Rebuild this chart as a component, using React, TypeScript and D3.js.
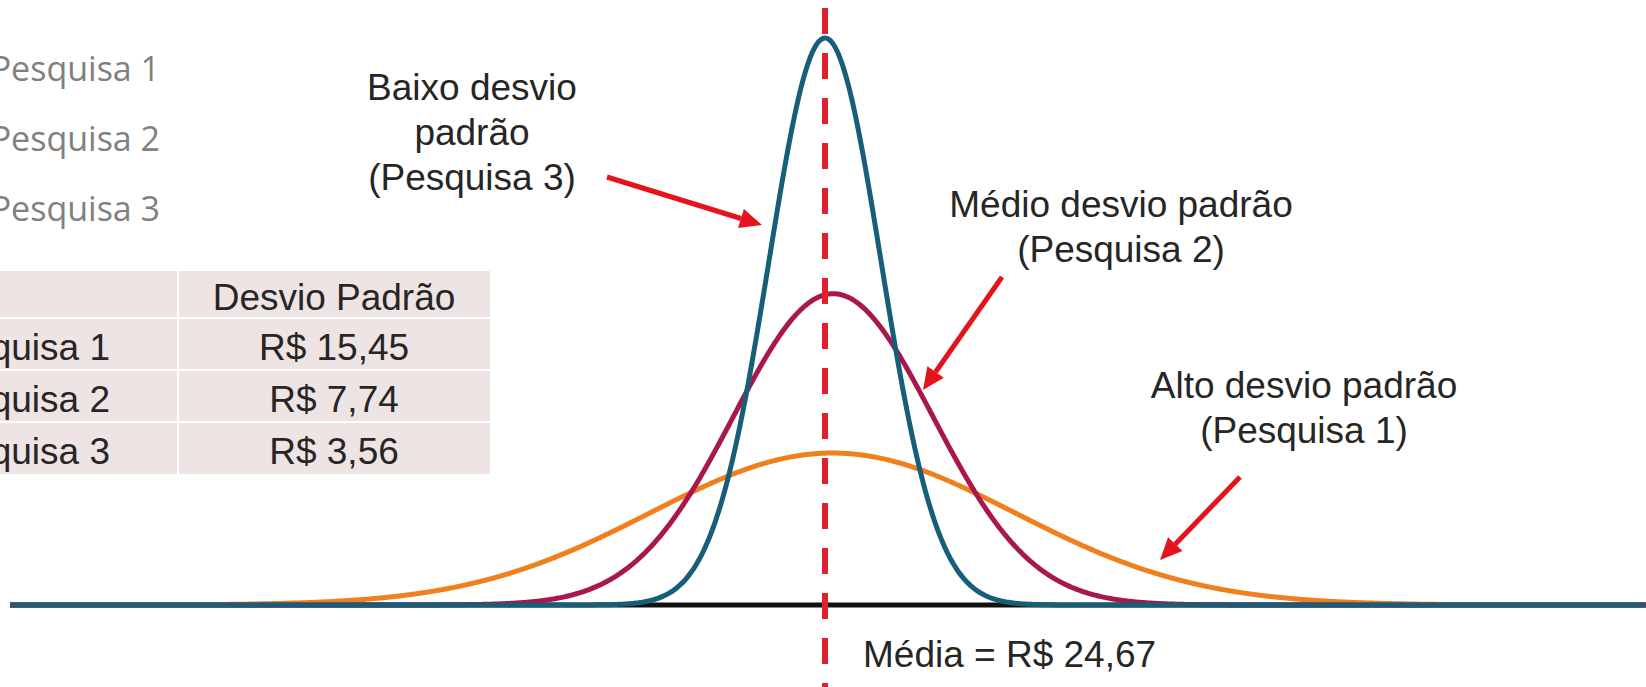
import React from 'react';
import * as d3 from 'd3';

// Survey data
const surveys = ['Pesquisa 1', 'Pesquisa 2', 'Pesquisa 3'];
const stdDevLabels = ['R$ 15,45', 'R$ 7,74', 'R$ 3,56'];
const meanLabel = 'Média = R$ 24,67';
const meanValue = 24.67;

// Bell shapes as drawn (center and spread in R$, peak relative to tallest)
const curveCenters = [25.3, 25.35, 24.67];
const curveSpreads = [15.2, 8.3, 4.67];
const curvePeaks = [0.268, 0.549, 1.0];
const curveColors = ['#F07F1E', '#A8184C', '#175E7A'];

const W = 1646;
const H = 687;
const FONT = '"Liberation Sans", Arial, sans-serif';

const annotations = [
  { lines: ['Baixo desvio', 'padrão', '(Pesquisa 3)'], x: 472, y: 100, from: [607, 177], to: [762, 225] },
  { lines: ['Médio desvio padrão', '(Pesquisa 2)'], x: 1121, y: 217, from: [1002, 277], to: [923, 390] },
  { lines: ['Alto desvio padrão', '(Pesquisa 1)'], x: 1304, y: 398, from: [1240, 477], to: [1160, 560] },
];

const Arrow: React.FC<{ from: number[]; to: number[] }> = ({ from, to }) => {
  const [x1, y1] = from;
  const [x2, y2] = to;
  const ang = Math.atan2(y2 - y1, x2 - x1);
  const len = 22;
  const half = 10;
  const bx = x2 - Math.cos(ang) * len;
  const by = y2 - Math.sin(ang) * len;
  const px = -Math.sin(ang) * half;
  const py = Math.cos(ang) * half;
  return (
    <g>
      <line x1={x1} y1={y1} x2={bx} y2={by} stroke="#E5131C" strokeWidth={5} />
      <polygon points={`${x2},${y2} ${bx + px},${by + py} ${bx - px},${by - py}`} fill="#E5131C" />
    </g>
  );
};

export default function App() {
  const x = d3.scaleLinear().domain([meanValue - 815 / 12, meanValue + 821 / 12]).range([10, 1646]);
  const y = d3.scaleLinear().domain([0, 1]).range([605, 38]);

  const xs = d3.range(x.domain()[0], x.domain()[1] + 0.05, 0.1);
  const gauss = (v: number, i: number) =>
    curvePeaks[i] * Math.exp(-0.5 * Math.pow((v - curveCenters[i]) / curveSpreads[i], 2));

  const line = (i: number) =>
    d3.line<number>()
      .x(d => x(d))
      .y(d => y(gauss(d, i)))
      .curve(d3.curveBasis)(xs) as string;

  const meanX = x(meanValue);

  // table layout
  const tableRight = 490;
  const colSplit = 178;
  const headerTop = 271;
  const headerH = 47;
  const rowH = 52;

  return (
    <svg width={W} height={H} style={{ position: 'absolute', left: 0, top: 0, background: '#fff' }}>
      <rect width={W} height={H} fill="#fff" />

      {/* legend labels */}
      {surveys.map((s, i) => (
        <text key={s} x={160} y={81 + i * 70} textAnchor="end" fontFamily='"Open Sans", sans-serif'
          fontSize={34} fill="#808080">{s}</text>
      ))}

      {/* table */}
      <rect x={0} y={headerTop} width={tableRight} height={headerH + rowH * 3} fill="#EFE4E4" />
      {d3.range(1, 4).map(k => {
        const yy = headerTop + headerH + (k - 1) * rowH;
        return <line key={k} x1={0} x2={tableRight} y1={yy} y2={yy} stroke="#fff" strokeWidth={2} />;
      })}
      <line x1={colSplit} x2={colSplit} y1={headerTop} y2={headerTop + headerH + rowH * 3} stroke="#fff" strokeWidth={2} />
      <text x={(colSplit + tableRight) / 2} y={headerTop + 39} textAnchor="middle" fontFamily={FONT}
        fontSize={37} fill="#262626">Desvio Padrão</text>
      {surveys.map((s, i) => (
        <g key={s}>
          <text x={110} y={headerTop + headerH + i * rowH + 42} textAnchor="end" fontFamily={FONT}
            fontSize={37} fill="#262626">{s}</text>
          <text x={(colSplit + tableRight) / 2} y={headerTop + headerH + i * rowH + 42} textAnchor="middle"
            fontFamily={FONT} fontSize={37} fill="#262626">{stdDevLabels[i]}</text>
        </g>
      ))}

      {/* baseline */}
      <line x1={10} x2={W} y1={y(0)} y2={y(0)} stroke="#111" strokeWidth={5} />

      {/* curves */}
      {curveColors.map((c, i) => (
        <path key={i} d={line(i)} fill="none" stroke={c} strokeWidth={5} strokeLinejoin="round" />
      ))}

      {/* annotations */}
      {annotations.map((a, i) => (
        <g key={i}>
          {a.lines.map((l, j) => (
            <text key={j} x={a.x} y={a.y + j * 45} textAnchor="middle" fontFamily={FONT} fontSize={37}
              fill="#262626">{l}</text>
          ))}
          <Arrow from={a.from} to={a.to} />
        </g>
      ))}

      {/* mean line */}
      <line x1={meanX} x2={meanX} y1={8} y2={H} stroke="#E0202E" strokeWidth={6} strokeDasharray="26 19" />
      <text x={863} y={667} fontFamily={FONT} fontSize={37} fill="#262626">{meanLabel}</text>
    </svg>
  );
}
